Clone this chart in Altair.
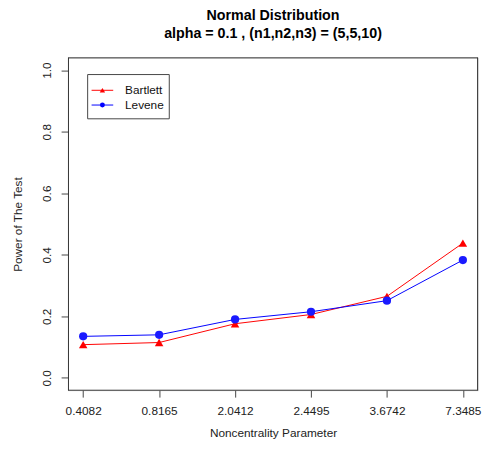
import altair as alt
import pandas as pd

ncp = ["0.4082", "0.8165", "2.0412", "2.4495", "3.6742", "7.3485"]
bartlett = [0.108, 0.115, 0.176, 0.206, 0.265, 0.438]
levene = [0.135, 0.140, 0.190, 0.215, 0.251, 0.383]

FONT = "Liberation Sans"
W, H = 417, 338
FRAME = "#333333"
Y_MIN, Y_MAX = -0.04, 1.04

df_b = pd.DataFrame({"ncp": ncp, "power": bartlett})
df_l = pd.DataFrame({"ncp": ncp, "power": levene})

y_scale = alt.Scale(domain=[Y_MIN, Y_MAX], nice=False, zero=False)

x_enc = alt.X(
    "ncp:N",
    sort=ncp,
    scale=alt.Scale(type="point", padding=0.2),
    axis=alt.Axis(
        title="Noncentrality Parameter",
        labelAngle=0,
        domain=False,
        ticks=True,
        tickSize=7,
        tickColor="#444",
        labelPadding=9,
        labelFontSize=12,
        labelFont=FONT,
        labelColor="#222",
        titleFont=FONT,
        titleFontSize=12,
        titleFontWeight="normal",
        titleColor="#222",
        titleY=43,
        titleBaseline="middle",
        grid=False,
    ),
)
y_enc = alt.Y(
    "power:Q",
    scale=y_scale,
    axis=alt.Axis(
        title="Power of The Test",
        values=[0, 0.2, 0.4, 0.6, 0.8, 1.0],
        format=".1f",
        labelAngle=-90,
        labelAlign="center",
        labelBaseline="middle",
        labelPadding=15,
        domain=False,
        tickSize=7,
        tickColor="#444",
        labelFontSize=12,
        labelFont=FONT,
        labelColor="#222",
        titleFont=FONT,
        titleFontSize=12,
        titleFontWeight="normal",
        titleColor="#222",
        titleX=-51,
        titleY=H / 2,
        titleAngle=-90,
        titleBaseline="middle",
        titleAlign="center",
        grid=False,
    ),
)

one = pd.DataFrame({"k": [0]})

# plot frame: horizontal edges placed through the y scale, vertical edges as rules
frame_top = alt.Chart(one).mark_rule(color=FRAME, strokeWidth=1).encode(
    y=alt.datum(Y_MAX, scale=y_scale), x=alt.value(0), x2=alt.value(W)
)
frame_bot = alt.Chart(one).mark_rule(color=FRAME, strokeWidth=1).encode(
    y=alt.datum(Y_MIN, scale=y_scale), x=alt.value(0), x2=alt.value(W)
)
frame_left = alt.Chart(one).mark_rule(color=FRAME, strokeWidth=1).encode(
    x=alt.value(0.5), y=alt.datum(Y_MIN, scale=y_scale), y2=alt.datum(Y_MAX)
)
frame_right = alt.Chart(one).mark_rule(color=FRAME, strokeWidth=1).encode(
    x=alt.value(W - 0.5), y=alt.datum(Y_MIN, scale=y_scale), y2=alt.datum(Y_MAX)
)

b_line = alt.Chart(df_b).mark_line(color="#ff0000", strokeWidth=1).encode(x=x_enc, y=y_enc)
b_pts = alt.Chart(df_b).mark_point(shape="triangle-up", filled=True, color="#ff0000", size=75, opacity=1).encode(x=x_enc, y=y_enc)
l_line = alt.Chart(df_l).mark_line(color="#0000ff", strokeWidth=1).encode(x=x_enc, y=y_enc)
l_pts = alt.Chart(df_l).mark_point(shape="circle", filled=True, color="#1a1aff", size=70, opacity=1).encode(x=x_enc, y=y_enc)

leg_box = alt.Chart(one).mark_rect(fill="white", stroke="#444", strokeWidth=1).encode(
    x=alt.value(20), x2=alt.value(103), y=alt.value(17), y2=alt.value(62)
)
leg_b_line = alt.Chart(one).mark_rule(color="#ff0000", strokeWidth=1).encode(
    x=alt.value(24), x2=alt.value(46), y=alt.value(33)
)
leg_b_pt = alt.Chart(one).mark_point(shape="triangle-up", filled=True, color="#ff0000", size=30, opacity=1).encode(
    x=alt.value(35), y=alt.value(33)
)
leg_b_txt = alt.Chart(one).mark_text(text="Bartlett", align="left", baseline="middle", font=FONT, fontSize=12, color="#111").encode(
    x=alt.value(58), y=alt.value(33)
)
leg_l_line = alt.Chart(one).mark_rule(color="#0000ff", strokeWidth=1).encode(
    x=alt.value(24), x2=alt.value(46), y=alt.value(48)
)
leg_l_pt = alt.Chart(one).mark_point(shape="circle", filled=True, color="#0000ff", size=25, opacity=1).encode(
    x=alt.value(35), y=alt.value(48)
)
leg_l_txt = alt.Chart(one).mark_text(text="Levene", align="left", baseline="middle", font=FONT, fontSize=12, color="#111").encode(
    x=alt.value(58), y=alt.value(48)
)

chart = alt.layer(
    b_line, b_pts, l_line, l_pts,
    leg_box, leg_b_line, leg_b_pt, leg_b_txt, leg_l_line, leg_l_pt, leg_l_txt,
    frame_top, frame_bot, frame_left, frame_right,
).properties(
    width=W,
    height=H,
    title=alt.TitleParams(
        text=["Normal Distribution", "alpha = 0.1 , (n1,n2,n3) = (5,5,10)"],
        font=FONT,
        fontSize=14.5,
        fontWeight="bold",
        color="black",
        anchor="middle",
        lineHeight=18,
        offset=16,
    ),
    autosize=alt.AutoSizeParams(type="none"),
    padding={"left": 61, "top": 47, "right": 4, "bottom": 50},
).configure_view(
    stroke=FRAME, strokeWidth=1
).configure(background="white")

chart.save("out.html", embed_options={"renderer": "svg", "actions": False})
